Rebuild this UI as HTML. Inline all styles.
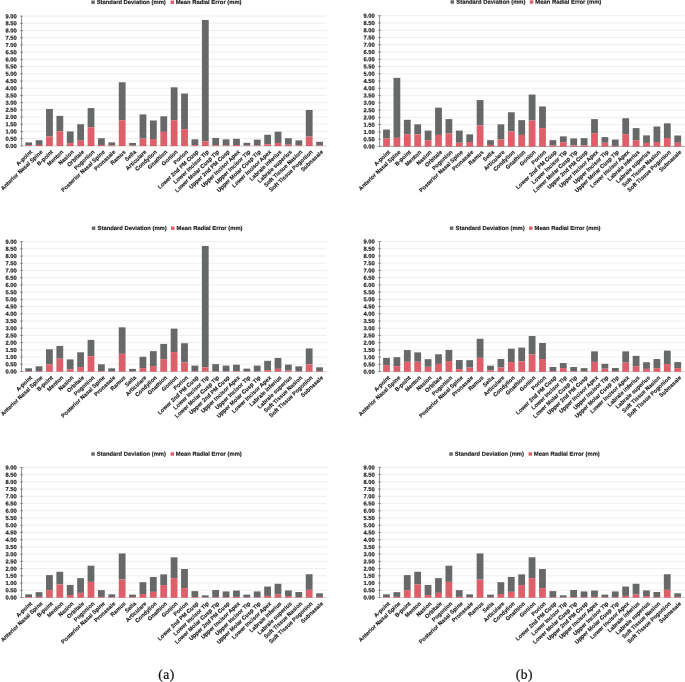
<!DOCTYPE html>
<html><head><meta charset="utf-8"><title>Landmark error charts</title>
<style>
html,body{margin:0;padding:0;background:#fff;}
body{width:685px;height:682px;overflow:hidden;font-family:"Liberation Sans",sans-serif;}
svg{display:block;will-change:transform;}
svg text{font-family:"Liberation Sans",sans-serif;font-weight:bold;font-size:5.85px;fill:#1a1a1a;stroke:#1a1a1a;stroke-width:0.16px;}
svg text.xl{font-size:5.62px;}
svg text.cap{stroke:#111;stroke-width:0.25px;font-family:"Liberation Serif",serif;font-weight:normal;font-size:13.5px;letter-spacing:0.55px;fill:#111;}
</style></head><body>
<svg width="685" height="682" viewBox="0 0 685 682">
<rect x="0" y="0" width="685" height="682" fill="#ffffff"/>
<g>
<line x1="21.60" y1="145.85" x2="326.90" y2="145.85" stroke="#e8e8e8" stroke-width="0.7"/>
<line x1="21.60" y1="138.64" x2="326.90" y2="138.64" stroke="#e8e8e8" stroke-width="0.7"/>
<line x1="21.60" y1="131.43" x2="326.90" y2="131.43" stroke="#e8e8e8" stroke-width="0.7"/>
<line x1="21.60" y1="124.22" x2="326.90" y2="124.22" stroke="#e8e8e8" stroke-width="0.7"/>
<line x1="21.60" y1="117.02" x2="326.90" y2="117.02" stroke="#e8e8e8" stroke-width="0.7"/>
<line x1="21.60" y1="109.81" x2="326.90" y2="109.81" stroke="#e8e8e8" stroke-width="0.7"/>
<line x1="21.60" y1="102.60" x2="326.90" y2="102.60" stroke="#e8e8e8" stroke-width="0.7"/>
<line x1="21.60" y1="95.39" x2="326.90" y2="95.39" stroke="#e8e8e8" stroke-width="0.7"/>
<line x1="21.60" y1="88.18" x2="326.90" y2="88.18" stroke="#e8e8e8" stroke-width="0.7"/>
<line x1="21.60" y1="80.97" x2="326.90" y2="80.97" stroke="#e8e8e8" stroke-width="0.7"/>
<line x1="21.60" y1="73.77" x2="326.90" y2="73.77" stroke="#e8e8e8" stroke-width="0.7"/>
<line x1="21.60" y1="66.56" x2="326.90" y2="66.56" stroke="#e8e8e8" stroke-width="0.7"/>
<line x1="21.60" y1="59.35" x2="326.90" y2="59.35" stroke="#e8e8e8" stroke-width="0.7"/>
<line x1="21.60" y1="52.14" x2="326.90" y2="52.14" stroke="#e8e8e8" stroke-width="0.7"/>
<line x1="21.60" y1="44.93" x2="326.90" y2="44.93" stroke="#e8e8e8" stroke-width="0.7"/>
<line x1="21.60" y1="37.72" x2="326.90" y2="37.72" stroke="#e8e8e8" stroke-width="0.7"/>
<line x1="21.60" y1="30.52" x2="326.90" y2="30.52" stroke="#e8e8e8" stroke-width="0.7"/>
<line x1="21.60" y1="23.31" x2="326.90" y2="23.31" stroke="#e8e8e8" stroke-width="0.7"/>
<line x1="21.60" y1="16.10" x2="326.90" y2="16.10" stroke="#e8e8e8" stroke-width="0.7"/>
<line x1="21.60" y1="145.85" x2="326.90" y2="145.85" stroke="#cfcfcf" stroke-width="0.75"/>
<rect x="25.28" y="142.39" width="6.8" height="2.88" fill="#676968"/>
<rect x="25.28" y="145.27" width="6.8" height="0.83" fill="#dc5f6a"/>
<rect x="35.67" y="140.23" width="6.8" height="4.76" fill="#676968"/>
<rect x="35.67" y="144.98" width="6.8" height="1.12" fill="#dc5f6a"/>
<rect x="46.06" y="108.94" width="6.8" height="27.54" fill="#676968"/>
<rect x="46.06" y="136.48" width="6.8" height="9.62" fill="#dc5f6a"/>
<rect x="56.45" y="115.86" width="6.8" height="15.43" fill="#676968"/>
<rect x="56.45" y="131.29" width="6.8" height="14.81" fill="#dc5f6a"/>
<rect x="66.84" y="131.43" width="6.8" height="11.68" fill="#676968"/>
<rect x="66.84" y="143.11" width="6.8" height="2.99" fill="#dc5f6a"/>
<rect x="77.23" y="124.22" width="6.8" height="16.44" fill="#676968"/>
<rect x="77.23" y="140.66" width="6.8" height="5.44" fill="#dc5f6a"/>
<rect x="87.62" y="108.08" width="6.8" height="19.17" fill="#676968"/>
<rect x="87.62" y="127.25" width="6.8" height="18.85" fill="#dc5f6a"/>
<rect x="98.01" y="138.21" width="6.8" height="6.78" fill="#676968"/>
<rect x="98.01" y="144.98" width="6.8" height="1.12" fill="#dc5f6a"/>
<rect x="108.40" y="142.39" width="6.8" height="3.03" fill="#676968"/>
<rect x="108.40" y="145.42" width="6.8" height="0.68" fill="#dc5f6a"/>
<rect x="118.79" y="82.27" width="6.8" height="37.92" fill="#676968"/>
<rect x="118.79" y="120.19" width="6.8" height="25.91" fill="#dc5f6a"/>
<rect x="129.18" y="142.97" width="6.8" height="2.59" fill="#676968"/>
<rect x="129.18" y="145.56" width="6.8" height="0.54" fill="#dc5f6a"/>
<rect x="139.57" y="114.42" width="6.8" height="24.08" fill="#676968"/>
<rect x="139.57" y="138.50" width="6.8" height="7.60" fill="#dc5f6a"/>
<rect x="149.96" y="120.48" width="6.8" height="18.60" fill="#676968"/>
<rect x="149.96" y="139.07" width="6.8" height="7.03" fill="#dc5f6a"/>
<rect x="160.35" y="116.30" width="6.8" height="15.57" fill="#676968"/>
<rect x="160.35" y="131.87" width="6.8" height="14.23" fill="#dc5f6a"/>
<rect x="170.74" y="87.32" width="6.8" height="32.87" fill="#676968"/>
<rect x="170.74" y="120.19" width="6.8" height="25.91" fill="#dc5f6a"/>
<rect x="181.13" y="93.52" width="6.8" height="35.61" fill="#676968"/>
<rect x="181.13" y="129.13" width="6.8" height="16.97" fill="#dc5f6a"/>
<rect x="191.52" y="139.36" width="6.8" height="5.91" fill="#676968"/>
<rect x="191.52" y="145.27" width="6.8" height="0.83" fill="#dc5f6a"/>
<rect x="201.91" y="19.99" width="6.8" height="121.24" fill="#676968"/>
<rect x="201.91" y="141.24" width="6.8" height="4.86" fill="#dc5f6a"/>
<rect x="212.30" y="137.92" width="6.8" height="7.35" fill="#676968"/>
<rect x="212.30" y="145.27" width="6.8" height="0.83" fill="#dc5f6a"/>
<rect x="222.69" y="139.36" width="6.8" height="6.06" fill="#676968"/>
<rect x="222.69" y="145.42" width="6.8" height="0.68" fill="#dc5f6a"/>
<rect x="233.08" y="138.79" width="6.8" height="6.20" fill="#676968"/>
<rect x="233.08" y="144.98" width="6.8" height="1.12" fill="#dc5f6a"/>
<rect x="243.47" y="142.82" width="6.8" height="2.74" fill="#676968"/>
<rect x="243.47" y="145.56" width="6.8" height="0.54" fill="#dc5f6a"/>
<rect x="253.86" y="139.65" width="6.8" height="5.77" fill="#676968"/>
<rect x="253.86" y="145.42" width="6.8" height="0.68" fill="#dc5f6a"/>
<rect x="264.25" y="134.75" width="6.8" height="9.51" fill="#676968"/>
<rect x="264.25" y="144.26" width="6.8" height="1.84" fill="#dc5f6a"/>
<rect x="274.64" y="131.72" width="6.8" height="11.25" fill="#676968"/>
<rect x="274.64" y="142.97" width="6.8" height="3.13" fill="#dc5f6a"/>
<rect x="285.03" y="138.21" width="6.8" height="6.49" fill="#676968"/>
<rect x="285.03" y="144.70" width="6.8" height="1.40" fill="#dc5f6a"/>
<rect x="295.42" y="140.37" width="6.8" height="5.05" fill="#676968"/>
<rect x="295.42" y="145.42" width="6.8" height="0.68" fill="#dc5f6a"/>
<rect x="305.81" y="109.95" width="6.8" height="26.67" fill="#676968"/>
<rect x="305.81" y="136.62" width="6.8" height="9.48" fill="#dc5f6a"/>
<rect x="316.20" y="141.81" width="6.8" height="3.60" fill="#676968"/>
<rect x="316.20" y="145.42" width="6.8" height="0.68" fill="#dc5f6a"/>
<line x1="21.60" y1="15.80" x2="21.60" y2="146.15" stroke="#5e5e5e" stroke-width="0.7"/>
<line x1="19.80" y1="145.85" x2="23.00" y2="145.85" stroke="#5e5e5e" stroke-width="0.55"/>
<text transform="translate(16.85,147.90) rotate(0.05)" text-anchor="end">0.00</text>
<line x1="19.80" y1="138.64" x2="23.00" y2="138.64" stroke="#5e5e5e" stroke-width="0.55"/>
<text transform="translate(16.85,140.69) rotate(0.05)" text-anchor="end">0.50</text>
<line x1="19.80" y1="131.43" x2="23.00" y2="131.43" stroke="#5e5e5e" stroke-width="0.55"/>
<text transform="translate(16.85,133.48) rotate(0.05)" text-anchor="end">1.00</text>
<line x1="19.80" y1="124.22" x2="23.00" y2="124.22" stroke="#5e5e5e" stroke-width="0.55"/>
<text transform="translate(16.85,126.27) rotate(0.05)" text-anchor="end">1.50</text>
<line x1="19.80" y1="117.02" x2="23.00" y2="117.02" stroke="#5e5e5e" stroke-width="0.55"/>
<text transform="translate(16.85,119.07) rotate(0.05)" text-anchor="end">2.00</text>
<line x1="19.80" y1="109.81" x2="23.00" y2="109.81" stroke="#5e5e5e" stroke-width="0.55"/>
<text transform="translate(16.85,111.86) rotate(0.05)" text-anchor="end">2.50</text>
<line x1="19.80" y1="102.60" x2="23.00" y2="102.60" stroke="#5e5e5e" stroke-width="0.55"/>
<text transform="translate(16.85,104.65) rotate(0.05)" text-anchor="end">3.00</text>
<line x1="19.80" y1="95.39" x2="23.00" y2="95.39" stroke="#5e5e5e" stroke-width="0.55"/>
<text transform="translate(16.85,97.44) rotate(0.05)" text-anchor="end">3.50</text>
<line x1="19.80" y1="88.18" x2="23.00" y2="88.18" stroke="#5e5e5e" stroke-width="0.55"/>
<text transform="translate(16.85,90.23) rotate(0.05)" text-anchor="end">4.00</text>
<line x1="19.80" y1="80.97" x2="23.00" y2="80.97" stroke="#5e5e5e" stroke-width="0.55"/>
<text transform="translate(16.85,83.02) rotate(0.05)" text-anchor="end">4.50</text>
<line x1="19.80" y1="73.77" x2="23.00" y2="73.77" stroke="#5e5e5e" stroke-width="0.55"/>
<text transform="translate(16.85,75.82) rotate(0.05)" text-anchor="end">5.00</text>
<line x1="19.80" y1="66.56" x2="23.00" y2="66.56" stroke="#5e5e5e" stroke-width="0.55"/>
<text transform="translate(16.85,68.61) rotate(0.05)" text-anchor="end">5.50</text>
<line x1="19.80" y1="59.35" x2="23.00" y2="59.35" stroke="#5e5e5e" stroke-width="0.55"/>
<text transform="translate(16.85,61.40) rotate(0.05)" text-anchor="end">6.00</text>
<line x1="19.80" y1="52.14" x2="23.00" y2="52.14" stroke="#5e5e5e" stroke-width="0.55"/>
<text transform="translate(16.85,54.19) rotate(0.05)" text-anchor="end">6.50</text>
<line x1="19.80" y1="44.93" x2="23.00" y2="44.93" stroke="#5e5e5e" stroke-width="0.55"/>
<text transform="translate(16.85,46.98) rotate(0.05)" text-anchor="end">7.00</text>
<line x1="19.80" y1="37.72" x2="23.00" y2="37.72" stroke="#5e5e5e" stroke-width="0.55"/>
<text transform="translate(16.85,39.77) rotate(0.05)" text-anchor="end">7.50</text>
<line x1="19.80" y1="30.52" x2="23.00" y2="30.52" stroke="#5e5e5e" stroke-width="0.55"/>
<text transform="translate(16.85,32.57) rotate(0.05)" text-anchor="end">8.00</text>
<line x1="19.80" y1="23.31" x2="23.00" y2="23.31" stroke="#5e5e5e" stroke-width="0.55"/>
<text transform="translate(16.85,25.36) rotate(0.05)" text-anchor="end">8.50</text>
<line x1="19.80" y1="16.10" x2="23.00" y2="16.10" stroke="#5e5e5e" stroke-width="0.55"/>
<text transform="translate(16.85,18.15) rotate(0.05)" text-anchor="end">9.00</text>
<text class="xl" transform="translate(32.58,152.45) rotate(-43.5)" text-anchor="end">A-point</text>
<text class="xl" transform="translate(42.97,152.45) rotate(-43.5)" text-anchor="end">Anterior Nasal Spine</text>
<text class="xl" transform="translate(53.36,152.45) rotate(-43.5)" text-anchor="end">B-point</text>
<text class="xl" transform="translate(63.75,152.45) rotate(-43.5)" text-anchor="end">Menton</text>
<text class="xl" transform="translate(74.14,152.45) rotate(-43.5)" text-anchor="end">Nasion</text>
<text class="xl" transform="translate(84.53,152.45) rotate(-43.5)" text-anchor="end">Orbitale</text>
<text class="xl" transform="translate(94.92,152.45) rotate(-43.5)" text-anchor="end">Pogonion</text>
<text class="xl" transform="translate(105.31,152.45) rotate(-43.5)" text-anchor="end">Posterior Nasal Spine</text>
<text class="xl" transform="translate(115.70,152.45) rotate(-43.5)" text-anchor="end">Pronasale</text>
<text class="xl" transform="translate(126.09,152.45) rotate(-43.5)" text-anchor="end">Ramus</text>
<text class="xl" transform="translate(136.48,152.45) rotate(-43.5)" text-anchor="end">Sella</text>
<text class="xl" transform="translate(146.87,152.45) rotate(-43.5)" text-anchor="end">Articulare</text>
<text class="xl" transform="translate(157.26,152.45) rotate(-43.5)" text-anchor="end">Condylion</text>
<text class="xl" transform="translate(167.65,152.45) rotate(-43.5)" text-anchor="end">Gnathion</text>
<text class="xl" transform="translate(178.04,152.45) rotate(-43.5)" text-anchor="end">Gonion</text>
<text class="xl" transform="translate(188.43,152.45) rotate(-43.5)" text-anchor="end">Porion</text>
<text class="xl" transform="translate(198.82,152.45) rotate(-43.5)" text-anchor="end">Lower 2nd PM Cusp</text>
<text class="xl" transform="translate(209.21,152.45) rotate(-43.5)" text-anchor="end">Lower Incisor Tip</text>
<text class="xl" transform="translate(219.60,152.45) rotate(-43.5)" text-anchor="end">Lower Molar Cusp Tip</text>
<text class="xl" transform="translate(229.99,152.45) rotate(-43.5)" text-anchor="end">Upper 2nd PM Cusp</text>
<text class="xl" transform="translate(240.38,152.45) rotate(-43.5)" text-anchor="end">Upper Incisor Apex</text>
<text class="xl" transform="translate(250.77,152.45) rotate(-43.5)" text-anchor="end">Upper Incisor Tip</text>
<text class="xl" transform="translate(261.16,152.45) rotate(-43.5)" text-anchor="end">Upper Molar Cusp Tip</text>
<text class="xl" transform="translate(271.55,152.45) rotate(-43.5)" text-anchor="end">Lower Incisor Apex</text>
<text class="xl" transform="translate(281.94,152.45) rotate(-43.5)" text-anchor="end">Labrale inferius</text>
<text class="xl" transform="translate(292.33,152.45) rotate(-43.5)" text-anchor="end">Labrale superius</text>
<text class="xl" transform="translate(302.72,152.45) rotate(-43.5)" text-anchor="end">Soft Tissue Nasion</text>
<text class="xl" transform="translate(313.11,152.45) rotate(-43.5)" text-anchor="end">Soft Tissue Pogonion</text>
<text class="xl" transform="translate(323.50,152.45) rotate(-43.5)" text-anchor="end">Subnasale</text>
<rect x="91.30" y="0.55" width="3.5" height="3.4" fill="#676968"/>
<text transform="translate(96.65,3.95) rotate(0.05)">Standard Deviation (mm)</text>
<rect x="170.55" y="0.55" width="3.5" height="3.4" fill="#dc5f6a"/>
<text transform="translate(175.65,3.95) rotate(0.05)">Mean Radial Error (mm)</text>
</g>
<g>
<line x1="379.60" y1="146.40" x2="684.90" y2="146.40" stroke="#e8e8e8" stroke-width="0.7"/>
<line x1="379.60" y1="139.14" x2="684.90" y2="139.14" stroke="#e8e8e8" stroke-width="0.7"/>
<line x1="379.60" y1="131.88" x2="684.90" y2="131.88" stroke="#e8e8e8" stroke-width="0.7"/>
<line x1="379.60" y1="124.62" x2="684.90" y2="124.62" stroke="#e8e8e8" stroke-width="0.7"/>
<line x1="379.60" y1="117.36" x2="684.90" y2="117.36" stroke="#e8e8e8" stroke-width="0.7"/>
<line x1="379.60" y1="110.09" x2="684.90" y2="110.09" stroke="#e8e8e8" stroke-width="0.7"/>
<line x1="379.60" y1="102.83" x2="684.90" y2="102.83" stroke="#e8e8e8" stroke-width="0.7"/>
<line x1="379.60" y1="95.57" x2="684.90" y2="95.57" stroke="#e8e8e8" stroke-width="0.7"/>
<line x1="379.60" y1="88.31" x2="684.90" y2="88.31" stroke="#e8e8e8" stroke-width="0.7"/>
<line x1="379.60" y1="81.05" x2="684.90" y2="81.05" stroke="#e8e8e8" stroke-width="0.7"/>
<line x1="379.60" y1="73.79" x2="684.90" y2="73.79" stroke="#e8e8e8" stroke-width="0.7"/>
<line x1="379.60" y1="66.53" x2="684.90" y2="66.53" stroke="#e8e8e8" stroke-width="0.7"/>
<line x1="379.60" y1="59.27" x2="684.90" y2="59.27" stroke="#e8e8e8" stroke-width="0.7"/>
<line x1="379.60" y1="52.01" x2="684.90" y2="52.01" stroke="#e8e8e8" stroke-width="0.7"/>
<line x1="379.60" y1="44.74" x2="684.90" y2="44.74" stroke="#e8e8e8" stroke-width="0.7"/>
<line x1="379.60" y1="37.48" x2="684.90" y2="37.48" stroke="#e8e8e8" stroke-width="0.7"/>
<line x1="379.60" y1="30.22" x2="684.90" y2="30.22" stroke="#e8e8e8" stroke-width="0.7"/>
<line x1="379.60" y1="22.96" x2="684.90" y2="22.96" stroke="#e8e8e8" stroke-width="0.7"/>
<line x1="379.60" y1="15.70" x2="684.90" y2="15.70" stroke="#e8e8e8" stroke-width="0.7"/>
<line x1="379.60" y1="146.40" x2="684.90" y2="146.40" stroke="#868686" stroke-width="0.75"/>
<rect x="383.10" y="129.55" width="6.8" height="8.86" fill="#676968"/>
<rect x="383.10" y="138.41" width="6.8" height="8.24" fill="#dc5f6a"/>
<rect x="393.50" y="77.86" width="6.8" height="59.98" fill="#676968"/>
<rect x="393.50" y="137.83" width="6.8" height="8.82" fill="#dc5f6a"/>
<rect x="403.90" y="119.82" width="6.8" height="14.38" fill="#676968"/>
<rect x="403.90" y="134.20" width="6.8" height="12.45" fill="#dc5f6a"/>
<rect x="414.30" y="124.33" width="6.8" height="10.02" fill="#676968"/>
<rect x="414.30" y="134.35" width="6.8" height="12.30" fill="#dc5f6a"/>
<rect x="424.70" y="130.57" width="6.8" height="9.58" fill="#676968"/>
<rect x="424.70" y="140.16" width="6.8" height="6.49" fill="#dc5f6a"/>
<rect x="435.10" y="107.63" width="6.8" height="27.30" fill="#676968"/>
<rect x="435.10" y="134.93" width="6.8" height="11.72" fill="#dc5f6a"/>
<rect x="445.50" y="119.10" width="6.8" height="14.23" fill="#676968"/>
<rect x="445.50" y="133.33" width="6.8" height="13.32" fill="#dc5f6a"/>
<rect x="455.90" y="130.57" width="6.8" height="12.20" fill="#676968"/>
<rect x="455.90" y="142.77" width="6.8" height="3.88" fill="#dc5f6a"/>
<rect x="466.30" y="134.35" width="6.8" height="7.70" fill="#676968"/>
<rect x="466.30" y="142.04" width="6.8" height="4.61" fill="#dc5f6a"/>
<rect x="476.70" y="100.07" width="6.8" height="25.41" fill="#676968"/>
<rect x="476.70" y="125.49" width="6.8" height="21.16" fill="#dc5f6a"/>
<rect x="487.10" y="140.16" width="6.8" height="4.79" fill="#676968"/>
<rect x="487.10" y="144.95" width="6.8" height="1.70" fill="#dc5f6a"/>
<rect x="497.50" y="124.33" width="6.8" height="15.10" fill="#676968"/>
<rect x="497.50" y="139.43" width="6.8" height="7.22" fill="#dc5f6a"/>
<rect x="507.90" y="112.27" width="6.8" height="19.02" fill="#676968"/>
<rect x="507.90" y="131.30" width="6.8" height="15.35" fill="#dc5f6a"/>
<rect x="518.30" y="120.11" width="6.8" height="14.81" fill="#676968"/>
<rect x="518.30" y="134.93" width="6.8" height="11.72" fill="#dc5f6a"/>
<rect x="528.70" y="94.56" width="6.8" height="25.99" fill="#676968"/>
<rect x="528.70" y="120.55" width="6.8" height="26.10" fill="#dc5f6a"/>
<rect x="539.10" y="106.46" width="6.8" height="21.64" fill="#676968"/>
<rect x="539.10" y="128.10" width="6.8" height="18.55" fill="#dc5f6a"/>
<rect x="549.50" y="140.16" width="6.8" height="5.23" fill="#676968"/>
<rect x="549.50" y="145.38" width="6.8" height="1.27" fill="#dc5f6a"/>
<rect x="559.90" y="136.38" width="6.8" height="5.81" fill="#676968"/>
<rect x="559.90" y="142.19" width="6.8" height="4.46" fill="#dc5f6a"/>
<rect x="570.30" y="138.41" width="6.8" height="6.97" fill="#676968"/>
<rect x="570.30" y="145.38" width="6.8" height="1.27" fill="#dc5f6a"/>
<rect x="580.70" y="138.12" width="6.8" height="7.26" fill="#676968"/>
<rect x="580.70" y="145.38" width="6.8" height="1.27" fill="#dc5f6a"/>
<rect x="591.10" y="119.10" width="6.8" height="14.09" fill="#676968"/>
<rect x="591.10" y="133.18" width="6.8" height="13.47" fill="#dc5f6a"/>
<rect x="601.50" y="137.11" width="6.8" height="5.66" fill="#676968"/>
<rect x="601.50" y="142.77" width="6.8" height="3.88" fill="#dc5f6a"/>
<rect x="611.90" y="139.57" width="6.8" height="6.39" fill="#676968"/>
<rect x="611.90" y="145.96" width="6.8" height="0.69" fill="#dc5f6a"/>
<rect x="622.30" y="118.23" width="6.8" height="15.97" fill="#676968"/>
<rect x="622.30" y="134.20" width="6.8" height="12.45" fill="#dc5f6a"/>
<rect x="632.70" y="128.10" width="6.8" height="12.05" fill="#676968"/>
<rect x="632.70" y="140.16" width="6.8" height="6.49" fill="#dc5f6a"/>
<rect x="643.10" y="135.36" width="6.8" height="7.55" fill="#676968"/>
<rect x="643.10" y="142.91" width="6.8" height="3.74" fill="#dc5f6a"/>
<rect x="653.50" y="126.50" width="6.8" height="15.54" fill="#676968"/>
<rect x="653.50" y="142.04" width="6.8" height="4.61" fill="#dc5f6a"/>
<rect x="663.90" y="123.31" width="6.8" height="14.67" fill="#676968"/>
<rect x="663.90" y="137.98" width="6.8" height="8.67" fill="#dc5f6a"/>
<rect x="674.30" y="135.51" width="6.8" height="7.26" fill="#676968"/>
<rect x="674.30" y="142.77" width="6.8" height="3.88" fill="#dc5f6a"/>
<line x1="379.60" y1="15.40" x2="379.60" y2="146.70" stroke="#5e5e5e" stroke-width="0.7"/>
<line x1="377.80" y1="146.40" x2="381.00" y2="146.40" stroke="#5e5e5e" stroke-width="0.55"/>
<text transform="translate(374.85,148.45) rotate(0.05)" text-anchor="end">0.00</text>
<line x1="377.80" y1="139.14" x2="381.00" y2="139.14" stroke="#5e5e5e" stroke-width="0.55"/>
<text transform="translate(374.85,141.19) rotate(0.05)" text-anchor="end">0.50</text>
<line x1="377.80" y1="131.88" x2="381.00" y2="131.88" stroke="#5e5e5e" stroke-width="0.55"/>
<text transform="translate(374.85,133.93) rotate(0.05)" text-anchor="end">1.00</text>
<line x1="377.80" y1="124.62" x2="381.00" y2="124.62" stroke="#5e5e5e" stroke-width="0.55"/>
<text transform="translate(374.85,126.67) rotate(0.05)" text-anchor="end">1.50</text>
<line x1="377.80" y1="117.36" x2="381.00" y2="117.36" stroke="#5e5e5e" stroke-width="0.55"/>
<text transform="translate(374.85,119.41) rotate(0.05)" text-anchor="end">2.00</text>
<line x1="377.80" y1="110.09" x2="381.00" y2="110.09" stroke="#5e5e5e" stroke-width="0.55"/>
<text transform="translate(374.85,112.14) rotate(0.05)" text-anchor="end">2.50</text>
<line x1="377.80" y1="102.83" x2="381.00" y2="102.83" stroke="#5e5e5e" stroke-width="0.55"/>
<text transform="translate(374.85,104.88) rotate(0.05)" text-anchor="end">3.00</text>
<line x1="377.80" y1="95.57" x2="381.00" y2="95.57" stroke="#5e5e5e" stroke-width="0.55"/>
<text transform="translate(374.85,97.62) rotate(0.05)" text-anchor="end">3.50</text>
<line x1="377.80" y1="88.31" x2="381.00" y2="88.31" stroke="#5e5e5e" stroke-width="0.55"/>
<text transform="translate(374.85,90.36) rotate(0.05)" text-anchor="end">4.00</text>
<line x1="377.80" y1="81.05" x2="381.00" y2="81.05" stroke="#5e5e5e" stroke-width="0.55"/>
<text transform="translate(374.85,83.10) rotate(0.05)" text-anchor="end">4.50</text>
<line x1="377.80" y1="73.79" x2="381.00" y2="73.79" stroke="#5e5e5e" stroke-width="0.55"/>
<text transform="translate(374.85,75.84) rotate(0.05)" text-anchor="end">5.00</text>
<line x1="377.80" y1="66.53" x2="381.00" y2="66.53" stroke="#5e5e5e" stroke-width="0.55"/>
<text transform="translate(374.85,68.58) rotate(0.05)" text-anchor="end">5.50</text>
<line x1="377.80" y1="59.27" x2="381.00" y2="59.27" stroke="#5e5e5e" stroke-width="0.55"/>
<text transform="translate(374.85,61.32) rotate(0.05)" text-anchor="end">6.00</text>
<line x1="377.80" y1="52.01" x2="381.00" y2="52.01" stroke="#5e5e5e" stroke-width="0.55"/>
<text transform="translate(374.85,54.06) rotate(0.05)" text-anchor="end">6.50</text>
<line x1="377.80" y1="44.74" x2="381.00" y2="44.74" stroke="#5e5e5e" stroke-width="0.55"/>
<text transform="translate(374.85,46.79) rotate(0.05)" text-anchor="end">7.00</text>
<line x1="377.80" y1="37.48" x2="381.00" y2="37.48" stroke="#5e5e5e" stroke-width="0.55"/>
<text transform="translate(374.85,39.53) rotate(0.05)" text-anchor="end">7.50</text>
<line x1="377.80" y1="30.22" x2="381.00" y2="30.22" stroke="#5e5e5e" stroke-width="0.55"/>
<text transform="translate(374.85,32.27) rotate(0.05)" text-anchor="end">8.00</text>
<line x1="377.80" y1="22.96" x2="381.00" y2="22.96" stroke="#5e5e5e" stroke-width="0.55"/>
<text transform="translate(374.85,25.01) rotate(0.05)" text-anchor="end">8.50</text>
<line x1="377.80" y1="15.70" x2="381.00" y2="15.70" stroke="#5e5e5e" stroke-width="0.55"/>
<text transform="translate(374.85,17.75) rotate(0.05)" text-anchor="end">9.00</text>
<text class="xl" transform="translate(390.50,152.65) rotate(-43.5)" text-anchor="end">A-point</text>
<text class="xl" transform="translate(400.90,152.65) rotate(-43.5)" text-anchor="end">Anterior Nasal Spine</text>
<text class="xl" transform="translate(411.30,152.65) rotate(-43.5)" text-anchor="end">B-point</text>
<text class="xl" transform="translate(421.70,152.65) rotate(-43.5)" text-anchor="end">Menton</text>
<text class="xl" transform="translate(432.10,152.65) rotate(-43.5)" text-anchor="end">Nasion</text>
<text class="xl" transform="translate(442.50,152.65) rotate(-43.5)" text-anchor="end">Orbitale</text>
<text class="xl" transform="translate(452.90,152.65) rotate(-43.5)" text-anchor="end">Pogonion</text>
<text class="xl" transform="translate(463.30,152.65) rotate(-43.5)" text-anchor="end">Posterior Nasal Spine</text>
<text class="xl" transform="translate(473.70,152.65) rotate(-43.5)" text-anchor="end">Pronasale</text>
<text class="xl" transform="translate(484.10,152.65) rotate(-43.5)" text-anchor="end">Ramus</text>
<text class="xl" transform="translate(494.50,152.65) rotate(-43.5)" text-anchor="end">Sella</text>
<text class="xl" transform="translate(504.90,152.65) rotate(-43.5)" text-anchor="end">Articulare</text>
<text class="xl" transform="translate(515.30,152.65) rotate(-43.5)" text-anchor="end">Condylion</text>
<text class="xl" transform="translate(525.70,152.65) rotate(-43.5)" text-anchor="end">Gnathion</text>
<text class="xl" transform="translate(536.10,152.65) rotate(-43.5)" text-anchor="end">Gonion</text>
<text class="xl" transform="translate(546.50,152.65) rotate(-43.5)" text-anchor="end">Porion</text>
<text class="xl" transform="translate(556.90,152.65) rotate(-43.5)" text-anchor="end">Lower 2nd PM Cusp</text>
<text class="xl" transform="translate(567.30,152.65) rotate(-43.5)" text-anchor="end">Lower Incisor Tip</text>
<text class="xl" transform="translate(577.70,152.65) rotate(-43.5)" text-anchor="end">Lower Molar Cusp Tip</text>
<text class="xl" transform="translate(588.10,152.65) rotate(-43.5)" text-anchor="end">Upper 2nd PM Cusp</text>
<text class="xl" transform="translate(598.50,152.65) rotate(-43.5)" text-anchor="end">Upper Incisor Apex</text>
<text class="xl" transform="translate(608.90,152.65) rotate(-43.5)" text-anchor="end">Upper Incisor Tip</text>
<text class="xl" transform="translate(619.30,152.65) rotate(-43.5)" text-anchor="end">Upper Molar Cusp Tip</text>
<text class="xl" transform="translate(629.70,152.65) rotate(-43.5)" text-anchor="end">Lower Incisor Apex</text>
<text class="xl" transform="translate(640.10,152.65) rotate(-43.5)" text-anchor="end">Labrale inferius</text>
<text class="xl" transform="translate(650.50,152.65) rotate(-43.5)" text-anchor="end">Labrale superius</text>
<text class="xl" transform="translate(660.90,152.65) rotate(-43.5)" text-anchor="end">Soft Tissue Nasion</text>
<text class="xl" transform="translate(671.30,152.65) rotate(-43.5)" text-anchor="end">Soft Tissue Pogonion</text>
<text class="xl" transform="translate(681.70,152.65) rotate(-43.5)" text-anchor="end">Subnasale</text>
<rect x="450.50" y="0.30" width="3.5" height="3.4" fill="#676968"/>
<text transform="translate(456.35,3.70) rotate(0.05)">Standard Deviation (mm)</text>
<rect x="529.75" y="0.30" width="3.5" height="3.4" fill="#dc5f6a"/>
<text transform="translate(535.35,3.70) rotate(0.05)">Mean Radial Error (mm)</text>
</g>
<g>
<line x1="21.55" y1="371.50" x2="326.85" y2="371.50" stroke="#e8e8e8" stroke-width="0.7"/>
<line x1="21.55" y1="364.28" x2="326.85" y2="364.28" stroke="#e8e8e8" stroke-width="0.7"/>
<line x1="21.55" y1="357.07" x2="326.85" y2="357.07" stroke="#e8e8e8" stroke-width="0.7"/>
<line x1="21.55" y1="349.85" x2="326.85" y2="349.85" stroke="#e8e8e8" stroke-width="0.7"/>
<line x1="21.55" y1="342.63" x2="326.85" y2="342.63" stroke="#e8e8e8" stroke-width="0.7"/>
<line x1="21.55" y1="335.42" x2="326.85" y2="335.42" stroke="#e8e8e8" stroke-width="0.7"/>
<line x1="21.55" y1="328.20" x2="326.85" y2="328.20" stroke="#e8e8e8" stroke-width="0.7"/>
<line x1="21.55" y1="320.98" x2="326.85" y2="320.98" stroke="#e8e8e8" stroke-width="0.7"/>
<line x1="21.55" y1="313.77" x2="326.85" y2="313.77" stroke="#e8e8e8" stroke-width="0.7"/>
<line x1="21.55" y1="306.55" x2="326.85" y2="306.55" stroke="#e8e8e8" stroke-width="0.7"/>
<line x1="21.55" y1="299.33" x2="326.85" y2="299.33" stroke="#e8e8e8" stroke-width="0.7"/>
<line x1="21.55" y1="292.12" x2="326.85" y2="292.12" stroke="#e8e8e8" stroke-width="0.7"/>
<line x1="21.55" y1="284.90" x2="326.85" y2="284.90" stroke="#e8e8e8" stroke-width="0.7"/>
<line x1="21.55" y1="277.68" x2="326.85" y2="277.68" stroke="#e8e8e8" stroke-width="0.7"/>
<line x1="21.55" y1="270.47" x2="326.85" y2="270.47" stroke="#e8e8e8" stroke-width="0.7"/>
<line x1="21.55" y1="263.25" x2="326.85" y2="263.25" stroke="#e8e8e8" stroke-width="0.7"/>
<line x1="21.55" y1="256.03" x2="326.85" y2="256.03" stroke="#e8e8e8" stroke-width="0.7"/>
<line x1="21.55" y1="248.82" x2="326.85" y2="248.82" stroke="#e8e8e8" stroke-width="0.7"/>
<line x1="21.55" y1="241.60" x2="326.85" y2="241.60" stroke="#e8e8e8" stroke-width="0.7"/>
<line x1="21.55" y1="371.50" x2="326.85" y2="371.50" stroke="#cfcfcf" stroke-width="0.75"/>
<rect x="25.23" y="368.32" width="6.8" height="2.96" fill="#676968"/>
<rect x="25.23" y="371.28" width="6.8" height="0.47" fill="#dc5f6a"/>
<rect x="35.62" y="366.30" width="6.8" height="4.84" fill="#676968"/>
<rect x="35.62" y="371.14" width="6.8" height="0.61" fill="#dc5f6a"/>
<rect x="46.01" y="349.27" width="6.8" height="15.08" fill="#676968"/>
<rect x="46.01" y="364.36" width="6.8" height="7.39" fill="#dc5f6a"/>
<rect x="56.40" y="345.95" width="6.8" height="12.77" fill="#676968"/>
<rect x="56.40" y="358.73" width="6.8" height="13.02" fill="#dc5f6a"/>
<rect x="66.79" y="359.38" width="6.8" height="9.89" fill="#676968"/>
<rect x="66.79" y="369.26" width="6.8" height="2.49" fill="#dc5f6a"/>
<rect x="77.18" y="352.30" width="6.8" height="14.79" fill="#676968"/>
<rect x="77.18" y="367.10" width="6.8" height="4.65" fill="#dc5f6a"/>
<rect x="87.57" y="339.89" width="6.8" height="16.24" fill="#676968"/>
<rect x="87.57" y="356.13" width="6.8" height="15.62" fill="#dc5f6a"/>
<rect x="97.96" y="364.28" width="6.8" height="6.86" fill="#676968"/>
<rect x="97.96" y="371.14" width="6.8" height="0.61" fill="#dc5f6a"/>
<rect x="108.35" y="368.32" width="6.8" height="3.03" fill="#676968"/>
<rect x="108.35" y="371.36" width="6.8" height="0.39" fill="#dc5f6a"/>
<rect x="118.74" y="327.33" width="6.8" height="26.49" fill="#676968"/>
<rect x="118.74" y="353.82" width="6.8" height="17.93" fill="#dc5f6a"/>
<rect x="129.13" y="368.90" width="6.8" height="2.45" fill="#676968"/>
<rect x="129.13" y="371.36" width="6.8" height="0.39" fill="#dc5f6a"/>
<rect x="139.52" y="356.78" width="6.8" height="11.33" fill="#676968"/>
<rect x="139.52" y="368.11" width="6.8" height="3.64" fill="#dc5f6a"/>
<rect x="149.91" y="351.15" width="6.8" height="14.94" fill="#676968"/>
<rect x="149.91" y="366.09" width="6.8" height="5.66" fill="#dc5f6a"/>
<rect x="160.30" y="343.93" width="6.8" height="15.23" fill="#676968"/>
<rect x="160.30" y="359.16" width="6.8" height="12.59" fill="#dc5f6a"/>
<rect x="170.69" y="328.63" width="6.8" height="23.45" fill="#676968"/>
<rect x="170.69" y="352.09" width="6.8" height="19.66" fill="#dc5f6a"/>
<rect x="181.08" y="343.21" width="6.8" height="19.12" fill="#676968"/>
<rect x="181.08" y="362.33" width="6.8" height="9.42" fill="#dc5f6a"/>
<rect x="191.47" y="365.58" width="6.8" height="5.70" fill="#676968"/>
<rect x="191.47" y="371.28" width="6.8" height="0.47" fill="#dc5f6a"/>
<rect x="201.86" y="245.93" width="6.8" height="121.46" fill="#676968"/>
<rect x="201.86" y="367.39" width="6.8" height="4.36" fill="#dc5f6a"/>
<rect x="212.25" y="364.14" width="6.8" height="7.14" fill="#676968"/>
<rect x="212.25" y="371.28" width="6.8" height="0.47" fill="#dc5f6a"/>
<rect x="222.64" y="365.58" width="6.8" height="5.70" fill="#676968"/>
<rect x="222.64" y="371.28" width="6.8" height="0.47" fill="#dc5f6a"/>
<rect x="233.03" y="364.72" width="6.8" height="6.42" fill="#676968"/>
<rect x="233.03" y="371.14" width="6.8" height="0.61" fill="#dc5f6a"/>
<rect x="243.42" y="368.61" width="6.8" height="2.67" fill="#676968"/>
<rect x="243.42" y="371.28" width="6.8" height="0.47" fill="#dc5f6a"/>
<rect x="253.81" y="365.58" width="6.8" height="5.70" fill="#676968"/>
<rect x="253.81" y="371.28" width="6.8" height="0.47" fill="#dc5f6a"/>
<rect x="264.20" y="360.82" width="6.8" height="9.31" fill="#676968"/>
<rect x="264.20" y="370.13" width="6.8" height="1.62" fill="#dc5f6a"/>
<rect x="274.59" y="357.93" width="6.8" height="10.90" fill="#676968"/>
<rect x="274.59" y="368.83" width="6.8" height="2.92" fill="#dc5f6a"/>
<rect x="284.98" y="364.57" width="6.8" height="5.99" fill="#676968"/>
<rect x="284.98" y="370.56" width="6.8" height="1.19" fill="#dc5f6a"/>
<rect x="295.37" y="366.30" width="6.8" height="4.98" fill="#676968"/>
<rect x="295.37" y="371.28" width="6.8" height="0.47" fill="#dc5f6a"/>
<rect x="305.76" y="348.41" width="6.8" height="15.95" fill="#676968"/>
<rect x="305.76" y="364.36" width="6.8" height="7.39" fill="#dc5f6a"/>
<rect x="316.15" y="367.31" width="6.8" height="3.68" fill="#676968"/>
<rect x="316.15" y="370.99" width="6.8" height="0.76" fill="#dc5f6a"/>
<line x1="21.55" y1="241.30" x2="21.55" y2="371.80" stroke="#5e5e5e" stroke-width="0.7"/>
<line x1="19.75" y1="371.50" x2="22.95" y2="371.50" stroke="#5e5e5e" stroke-width="0.55"/>
<text transform="translate(16.80,373.55) rotate(0.05)" text-anchor="end">0.00</text>
<line x1="19.75" y1="364.28" x2="22.95" y2="364.28" stroke="#5e5e5e" stroke-width="0.55"/>
<text transform="translate(16.80,366.33) rotate(0.05)" text-anchor="end">0.50</text>
<line x1="19.75" y1="357.07" x2="22.95" y2="357.07" stroke="#5e5e5e" stroke-width="0.55"/>
<text transform="translate(16.80,359.12) rotate(0.05)" text-anchor="end">1.00</text>
<line x1="19.75" y1="349.85" x2="22.95" y2="349.85" stroke="#5e5e5e" stroke-width="0.55"/>
<text transform="translate(16.80,351.90) rotate(0.05)" text-anchor="end">1.50</text>
<line x1="19.75" y1="342.63" x2="22.95" y2="342.63" stroke="#5e5e5e" stroke-width="0.55"/>
<text transform="translate(16.80,344.68) rotate(0.05)" text-anchor="end">2.00</text>
<line x1="19.75" y1="335.42" x2="22.95" y2="335.42" stroke="#5e5e5e" stroke-width="0.55"/>
<text transform="translate(16.80,337.47) rotate(0.05)" text-anchor="end">2.50</text>
<line x1="19.75" y1="328.20" x2="22.95" y2="328.20" stroke="#5e5e5e" stroke-width="0.55"/>
<text transform="translate(16.80,330.25) rotate(0.05)" text-anchor="end">3.00</text>
<line x1="19.75" y1="320.98" x2="22.95" y2="320.98" stroke="#5e5e5e" stroke-width="0.55"/>
<text transform="translate(16.80,323.03) rotate(0.05)" text-anchor="end">3.50</text>
<line x1="19.75" y1="313.77" x2="22.95" y2="313.77" stroke="#5e5e5e" stroke-width="0.55"/>
<text transform="translate(16.80,315.82) rotate(0.05)" text-anchor="end">4.00</text>
<line x1="19.75" y1="306.55" x2="22.95" y2="306.55" stroke="#5e5e5e" stroke-width="0.55"/>
<text transform="translate(16.80,308.60) rotate(0.05)" text-anchor="end">4.50</text>
<line x1="19.75" y1="299.33" x2="22.95" y2="299.33" stroke="#5e5e5e" stroke-width="0.55"/>
<text transform="translate(16.80,301.38) rotate(0.05)" text-anchor="end">5.00</text>
<line x1="19.75" y1="292.12" x2="22.95" y2="292.12" stroke="#5e5e5e" stroke-width="0.55"/>
<text transform="translate(16.80,294.17) rotate(0.05)" text-anchor="end">5.50</text>
<line x1="19.75" y1="284.90" x2="22.95" y2="284.90" stroke="#5e5e5e" stroke-width="0.55"/>
<text transform="translate(16.80,286.95) rotate(0.05)" text-anchor="end">6.00</text>
<line x1="19.75" y1="277.68" x2="22.95" y2="277.68" stroke="#5e5e5e" stroke-width="0.55"/>
<text transform="translate(16.80,279.73) rotate(0.05)" text-anchor="end">6.50</text>
<line x1="19.75" y1="270.47" x2="22.95" y2="270.47" stroke="#5e5e5e" stroke-width="0.55"/>
<text transform="translate(16.80,272.52) rotate(0.05)" text-anchor="end">7.00</text>
<line x1="19.75" y1="263.25" x2="22.95" y2="263.25" stroke="#5e5e5e" stroke-width="0.55"/>
<text transform="translate(16.80,265.30) rotate(0.05)" text-anchor="end">7.50</text>
<line x1="19.75" y1="256.03" x2="22.95" y2="256.03" stroke="#5e5e5e" stroke-width="0.55"/>
<text transform="translate(16.80,258.08) rotate(0.05)" text-anchor="end">8.00</text>
<line x1="19.75" y1="248.82" x2="22.95" y2="248.82" stroke="#5e5e5e" stroke-width="0.55"/>
<text transform="translate(16.80,250.87) rotate(0.05)" text-anchor="end">8.50</text>
<line x1="19.75" y1="241.60" x2="22.95" y2="241.60" stroke="#5e5e5e" stroke-width="0.55"/>
<text transform="translate(16.80,243.65) rotate(0.05)" text-anchor="end">9.00</text>
<text class="xl" transform="translate(32.53,378.10) rotate(-43.5)" text-anchor="end">A-point</text>
<text class="xl" transform="translate(42.92,378.10) rotate(-43.5)" text-anchor="end">Anterior Nasal Spine</text>
<text class="xl" transform="translate(53.31,378.10) rotate(-43.5)" text-anchor="end">B-point</text>
<text class="xl" transform="translate(63.70,378.10) rotate(-43.5)" text-anchor="end">Menton</text>
<text class="xl" transform="translate(74.09,378.10) rotate(-43.5)" text-anchor="end">Nasion</text>
<text class="xl" transform="translate(84.48,378.10) rotate(-43.5)" text-anchor="end">Orbitale</text>
<text class="xl" transform="translate(94.87,378.10) rotate(-43.5)" text-anchor="end">Pogonion</text>
<text class="xl" transform="translate(105.26,378.10) rotate(-43.5)" text-anchor="end">Posterior Nasal Spine</text>
<text class="xl" transform="translate(115.65,378.10) rotate(-43.5)" text-anchor="end">Pronasale</text>
<text class="xl" transform="translate(126.04,378.10) rotate(-43.5)" text-anchor="end">Ramus</text>
<text class="xl" transform="translate(136.43,378.10) rotate(-43.5)" text-anchor="end">Sella</text>
<text class="xl" transform="translate(146.82,378.10) rotate(-43.5)" text-anchor="end">Articulare</text>
<text class="xl" transform="translate(157.21,378.10) rotate(-43.5)" text-anchor="end">Condylion</text>
<text class="xl" transform="translate(167.60,378.10) rotate(-43.5)" text-anchor="end">Gnathion</text>
<text class="xl" transform="translate(177.99,378.10) rotate(-43.5)" text-anchor="end">Gonion</text>
<text class="xl" transform="translate(188.38,378.10) rotate(-43.5)" text-anchor="end">Porion</text>
<text class="xl" transform="translate(198.77,378.10) rotate(-43.5)" text-anchor="end">Lower 2nd PM Cusp</text>
<text class="xl" transform="translate(209.16,378.10) rotate(-43.5)" text-anchor="end">Lower Incisor Tip</text>
<text class="xl" transform="translate(219.55,378.10) rotate(-43.5)" text-anchor="end">Lower Molar Cusp Tip</text>
<text class="xl" transform="translate(229.94,378.10) rotate(-43.5)" text-anchor="end">Upper 2nd PM Cusp</text>
<text class="xl" transform="translate(240.33,378.10) rotate(-43.5)" text-anchor="end">Upper Incisor Apex</text>
<text class="xl" transform="translate(250.72,378.10) rotate(-43.5)" text-anchor="end">Upper Incisor Tip</text>
<text class="xl" transform="translate(261.11,378.10) rotate(-43.5)" text-anchor="end">Upper Molar Cusp Tip</text>
<text class="xl" transform="translate(271.50,378.10) rotate(-43.5)" text-anchor="end">Lower Incisor Apex</text>
<text class="xl" transform="translate(281.89,378.10) rotate(-43.5)" text-anchor="end">Labrale inferius</text>
<text class="xl" transform="translate(292.28,378.10) rotate(-43.5)" text-anchor="end">Labrale superius</text>
<text class="xl" transform="translate(302.67,378.10) rotate(-43.5)" text-anchor="end">Soft Tissue Nasion</text>
<text class="xl" transform="translate(313.06,378.10) rotate(-43.5)" text-anchor="end">Soft Tissue Pogonion</text>
<text class="xl" transform="translate(323.45,378.10) rotate(-43.5)" text-anchor="end">Subnasale</text>
<rect x="91.80" y="226.50" width="3.5" height="3.4" fill="#676968"/>
<text transform="translate(97.60,229.90) rotate(0.05)">Standard Deviation (mm)</text>
<rect x="171.05" y="226.50" width="3.5" height="3.4" fill="#dc5f6a"/>
<text transform="translate(176.60,229.90) rotate(0.05)">Mean Radial Error (mm)</text>
</g>
<g>
<line x1="379.60" y1="371.60" x2="684.90" y2="371.60" stroke="#e8e8e8" stroke-width="0.7"/>
<line x1="379.60" y1="364.37" x2="684.90" y2="364.37" stroke="#e8e8e8" stroke-width="0.7"/>
<line x1="379.60" y1="357.14" x2="684.90" y2="357.14" stroke="#e8e8e8" stroke-width="0.7"/>
<line x1="379.60" y1="349.92" x2="684.90" y2="349.92" stroke="#e8e8e8" stroke-width="0.7"/>
<line x1="379.60" y1="342.69" x2="684.90" y2="342.69" stroke="#e8e8e8" stroke-width="0.7"/>
<line x1="379.60" y1="335.46" x2="684.90" y2="335.46" stroke="#e8e8e8" stroke-width="0.7"/>
<line x1="379.60" y1="328.23" x2="684.90" y2="328.23" stroke="#e8e8e8" stroke-width="0.7"/>
<line x1="379.60" y1="321.01" x2="684.90" y2="321.01" stroke="#e8e8e8" stroke-width="0.7"/>
<line x1="379.60" y1="313.78" x2="684.90" y2="313.78" stroke="#e8e8e8" stroke-width="0.7"/>
<line x1="379.60" y1="306.55" x2="684.90" y2="306.55" stroke="#e8e8e8" stroke-width="0.7"/>
<line x1="379.60" y1="299.32" x2="684.90" y2="299.32" stroke="#e8e8e8" stroke-width="0.7"/>
<line x1="379.60" y1="292.09" x2="684.90" y2="292.09" stroke="#e8e8e8" stroke-width="0.7"/>
<line x1="379.60" y1="284.87" x2="684.90" y2="284.87" stroke="#e8e8e8" stroke-width="0.7"/>
<line x1="379.60" y1="277.64" x2="684.90" y2="277.64" stroke="#e8e8e8" stroke-width="0.7"/>
<line x1="379.60" y1="270.41" x2="684.90" y2="270.41" stroke="#e8e8e8" stroke-width="0.7"/>
<line x1="379.60" y1="263.18" x2="684.90" y2="263.18" stroke="#e8e8e8" stroke-width="0.7"/>
<line x1="379.60" y1="255.96" x2="684.90" y2="255.96" stroke="#e8e8e8" stroke-width="0.7"/>
<line x1="379.60" y1="248.73" x2="684.90" y2="248.73" stroke="#e8e8e8" stroke-width="0.7"/>
<line x1="379.60" y1="241.50" x2="684.90" y2="241.50" stroke="#e8e8e8" stroke-width="0.7"/>
<line x1="379.60" y1="371.60" x2="684.90" y2="371.60" stroke="#c4c4c4" stroke-width="0.75"/>
<rect x="383.10" y="357.87" width="6.8" height="7.23" fill="#676968"/>
<rect x="383.10" y="365.10" width="6.8" height="6.75" fill="#dc5f6a"/>
<rect x="393.50" y="357.14" width="6.8" height="8.96" fill="#676968"/>
<rect x="393.50" y="366.11" width="6.8" height="5.74" fill="#dc5f6a"/>
<rect x="403.90" y="350.06" width="6.8" height="11.71" fill="#676968"/>
<rect x="403.90" y="361.77" width="6.8" height="10.08" fill="#dc5f6a"/>
<rect x="414.30" y="352.37" width="6.8" height="9.40" fill="#676968"/>
<rect x="414.30" y="361.77" width="6.8" height="10.08" fill="#dc5f6a"/>
<rect x="424.70" y="359.17" width="6.8" height="7.66" fill="#676968"/>
<rect x="424.70" y="366.83" width="6.8" height="5.02" fill="#dc5f6a"/>
<rect x="435.10" y="354.25" width="6.8" height="9.69" fill="#676968"/>
<rect x="435.10" y="363.94" width="6.8" height="7.91" fill="#dc5f6a"/>
<rect x="445.50" y="349.92" width="6.8" height="11.13" fill="#676968"/>
<rect x="445.50" y="361.05" width="6.8" height="10.80" fill="#dc5f6a"/>
<rect x="455.90" y="360.04" width="6.8" height="9.11" fill="#676968"/>
<rect x="455.90" y="369.14" width="6.8" height="2.71" fill="#dc5f6a"/>
<rect x="466.30" y="360.18" width="6.8" height="7.37" fill="#676968"/>
<rect x="466.30" y="367.55" width="6.8" height="4.30" fill="#dc5f6a"/>
<rect x="476.70" y="338.79" width="6.8" height="19.08" fill="#676968"/>
<rect x="476.70" y="357.87" width="6.8" height="13.98" fill="#dc5f6a"/>
<rect x="487.10" y="365.67" width="6.8" height="4.77" fill="#676968"/>
<rect x="487.10" y="370.44" width="6.8" height="1.41" fill="#dc5f6a"/>
<rect x="497.50" y="359.02" width="6.8" height="8.53" fill="#676968"/>
<rect x="497.50" y="367.55" width="6.8" height="4.30" fill="#dc5f6a"/>
<rect x="507.90" y="348.62" width="6.8" height="13.44" fill="#676968"/>
<rect x="507.90" y="362.06" width="6.8" height="9.79" fill="#dc5f6a"/>
<rect x="518.30" y="347.60" width="6.8" height="13.88" fill="#676968"/>
<rect x="518.30" y="361.48" width="6.8" height="10.37" fill="#dc5f6a"/>
<rect x="528.70" y="336.04" width="6.8" height="18.50" fill="#676968"/>
<rect x="528.70" y="354.54" width="6.8" height="17.31" fill="#dc5f6a"/>
<rect x="539.10" y="342.98" width="6.8" height="16.05" fill="#676968"/>
<rect x="539.10" y="359.02" width="6.8" height="12.83" fill="#dc5f6a"/>
<rect x="549.50" y="366.97" width="6.8" height="4.19" fill="#676968"/>
<rect x="549.50" y="371.17" width="6.8" height="0.68" fill="#dc5f6a"/>
<rect x="559.90" y="363.07" width="6.8" height="5.06" fill="#676968"/>
<rect x="559.90" y="368.13" width="6.8" height="3.72" fill="#dc5f6a"/>
<rect x="570.30" y="366.97" width="6.8" height="4.19" fill="#676968"/>
<rect x="570.30" y="371.17" width="6.8" height="0.68" fill="#dc5f6a"/>
<rect x="580.70" y="368.13" width="6.8" height="3.18" fill="#676968"/>
<rect x="580.70" y="371.31" width="6.8" height="0.54" fill="#dc5f6a"/>
<rect x="591.10" y="351.36" width="6.8" height="10.55" fill="#676968"/>
<rect x="591.10" y="361.91" width="6.8" height="9.94" fill="#dc5f6a"/>
<rect x="601.50" y="363.79" width="6.8" height="4.91" fill="#676968"/>
<rect x="601.50" y="368.71" width="6.8" height="3.14" fill="#dc5f6a"/>
<rect x="611.90" y="367.99" width="6.8" height="3.32" fill="#676968"/>
<rect x="611.90" y="371.31" width="6.8" height="0.54" fill="#dc5f6a"/>
<rect x="622.30" y="351.36" width="6.8" height="11.28" fill="#676968"/>
<rect x="622.30" y="362.64" width="6.8" height="9.21" fill="#dc5f6a"/>
<rect x="632.70" y="355.84" width="6.8" height="10.26" fill="#676968"/>
<rect x="632.70" y="366.11" width="6.8" height="5.74" fill="#dc5f6a"/>
<rect x="643.10" y="362.20" width="6.8" height="6.65" fill="#676968"/>
<rect x="643.10" y="368.85" width="6.8" height="3.00" fill="#dc5f6a"/>
<rect x="653.50" y="359.02" width="6.8" height="9.11" fill="#676968"/>
<rect x="653.50" y="368.13" width="6.8" height="3.72" fill="#dc5f6a"/>
<rect x="663.90" y="350.64" width="6.8" height="13.44" fill="#676968"/>
<rect x="663.90" y="364.08" width="6.8" height="7.77" fill="#dc5f6a"/>
<rect x="674.30" y="362.06" width="6.8" height="6.07" fill="#676968"/>
<rect x="674.30" y="368.13" width="6.8" height="3.72" fill="#dc5f6a"/>
<line x1="379.60" y1="241.20" x2="379.60" y2="371.90" stroke="#5e5e5e" stroke-width="0.7"/>
<line x1="377.80" y1="371.60" x2="381.00" y2="371.60" stroke="#5e5e5e" stroke-width="0.55"/>
<text transform="translate(374.85,373.65) rotate(0.05)" text-anchor="end">0.00</text>
<line x1="377.80" y1="364.37" x2="381.00" y2="364.37" stroke="#5e5e5e" stroke-width="0.55"/>
<text transform="translate(374.85,366.42) rotate(0.05)" text-anchor="end">0.50</text>
<line x1="377.80" y1="357.14" x2="381.00" y2="357.14" stroke="#5e5e5e" stroke-width="0.55"/>
<text transform="translate(374.85,359.19) rotate(0.05)" text-anchor="end">1.00</text>
<line x1="377.80" y1="349.92" x2="381.00" y2="349.92" stroke="#5e5e5e" stroke-width="0.55"/>
<text transform="translate(374.85,351.97) rotate(0.05)" text-anchor="end">1.50</text>
<line x1="377.80" y1="342.69" x2="381.00" y2="342.69" stroke="#5e5e5e" stroke-width="0.55"/>
<text transform="translate(374.85,344.74) rotate(0.05)" text-anchor="end">2.00</text>
<line x1="377.80" y1="335.46" x2="381.00" y2="335.46" stroke="#5e5e5e" stroke-width="0.55"/>
<text transform="translate(374.85,337.51) rotate(0.05)" text-anchor="end">2.50</text>
<line x1="377.80" y1="328.23" x2="381.00" y2="328.23" stroke="#5e5e5e" stroke-width="0.55"/>
<text transform="translate(374.85,330.28) rotate(0.05)" text-anchor="end">3.00</text>
<line x1="377.80" y1="321.01" x2="381.00" y2="321.01" stroke="#5e5e5e" stroke-width="0.55"/>
<text transform="translate(374.85,323.06) rotate(0.05)" text-anchor="end">3.50</text>
<line x1="377.80" y1="313.78" x2="381.00" y2="313.78" stroke="#5e5e5e" stroke-width="0.55"/>
<text transform="translate(374.85,315.83) rotate(0.05)" text-anchor="end">4.00</text>
<line x1="377.80" y1="306.55" x2="381.00" y2="306.55" stroke="#5e5e5e" stroke-width="0.55"/>
<text transform="translate(374.85,308.60) rotate(0.05)" text-anchor="end">4.50</text>
<line x1="377.80" y1="299.32" x2="381.00" y2="299.32" stroke="#5e5e5e" stroke-width="0.55"/>
<text transform="translate(374.85,301.37) rotate(0.05)" text-anchor="end">5.00</text>
<line x1="377.80" y1="292.09" x2="381.00" y2="292.09" stroke="#5e5e5e" stroke-width="0.55"/>
<text transform="translate(374.85,294.14) rotate(0.05)" text-anchor="end">5.50</text>
<line x1="377.80" y1="284.87" x2="381.00" y2="284.87" stroke="#5e5e5e" stroke-width="0.55"/>
<text transform="translate(374.85,286.92) rotate(0.05)" text-anchor="end">6.00</text>
<line x1="377.80" y1="277.64" x2="381.00" y2="277.64" stroke="#5e5e5e" stroke-width="0.55"/>
<text transform="translate(374.85,279.69) rotate(0.05)" text-anchor="end">6.50</text>
<line x1="377.80" y1="270.41" x2="381.00" y2="270.41" stroke="#5e5e5e" stroke-width="0.55"/>
<text transform="translate(374.85,272.46) rotate(0.05)" text-anchor="end">7.00</text>
<line x1="377.80" y1="263.18" x2="381.00" y2="263.18" stroke="#5e5e5e" stroke-width="0.55"/>
<text transform="translate(374.85,265.23) rotate(0.05)" text-anchor="end">7.50</text>
<line x1="377.80" y1="255.96" x2="381.00" y2="255.96" stroke="#5e5e5e" stroke-width="0.55"/>
<text transform="translate(374.85,258.01) rotate(0.05)" text-anchor="end">8.00</text>
<line x1="377.80" y1="248.73" x2="381.00" y2="248.73" stroke="#5e5e5e" stroke-width="0.55"/>
<text transform="translate(374.85,250.78) rotate(0.05)" text-anchor="end">8.50</text>
<line x1="377.80" y1="241.50" x2="381.00" y2="241.50" stroke="#5e5e5e" stroke-width="0.55"/>
<text transform="translate(374.85,243.55) rotate(0.05)" text-anchor="end">9.00</text>
<text class="xl" transform="translate(390.40,378.20) rotate(-43.5)" text-anchor="end">A-point</text>
<text class="xl" transform="translate(400.80,378.20) rotate(-43.5)" text-anchor="end">Anterior Nasal Spine</text>
<text class="xl" transform="translate(411.20,378.20) rotate(-43.5)" text-anchor="end">B-point</text>
<text class="xl" transform="translate(421.60,378.20) rotate(-43.5)" text-anchor="end">Menton</text>
<text class="xl" transform="translate(432.00,378.20) rotate(-43.5)" text-anchor="end">Nasion</text>
<text class="xl" transform="translate(442.40,378.20) rotate(-43.5)" text-anchor="end">Orbitale</text>
<text class="xl" transform="translate(452.80,378.20) rotate(-43.5)" text-anchor="end">Pogonion</text>
<text class="xl" transform="translate(463.20,378.20) rotate(-43.5)" text-anchor="end">Posterior Nasal Spine</text>
<text class="xl" transform="translate(473.60,378.20) rotate(-43.5)" text-anchor="end">Pronasale</text>
<text class="xl" transform="translate(484.00,378.20) rotate(-43.5)" text-anchor="end">Ramus</text>
<text class="xl" transform="translate(494.40,378.20) rotate(-43.5)" text-anchor="end">Sella</text>
<text class="xl" transform="translate(504.80,378.20) rotate(-43.5)" text-anchor="end">Articulare</text>
<text class="xl" transform="translate(515.20,378.20) rotate(-43.5)" text-anchor="end">Condylion</text>
<text class="xl" transform="translate(525.60,378.20) rotate(-43.5)" text-anchor="end">Gnathion</text>
<text class="xl" transform="translate(536.00,378.20) rotate(-43.5)" text-anchor="end">Gonion</text>
<text class="xl" transform="translate(546.40,378.20) rotate(-43.5)" text-anchor="end">Porion</text>
<text class="xl" transform="translate(556.80,378.20) rotate(-43.5)" text-anchor="end">Lower 2nd PM Cusp</text>
<text class="xl" transform="translate(567.20,378.20) rotate(-43.5)" text-anchor="end">Lower Incisor Tip</text>
<text class="xl" transform="translate(577.60,378.20) rotate(-43.5)" text-anchor="end">Lower Molar Cusp Tip</text>
<text class="xl" transform="translate(588.00,378.20) rotate(-43.5)" text-anchor="end">Upper 2nd PM Cusp</text>
<text class="xl" transform="translate(598.40,378.20) rotate(-43.5)" text-anchor="end">Upper Incisor Apex</text>
<text class="xl" transform="translate(608.80,378.20) rotate(-43.5)" text-anchor="end">Upper Incisor Tip</text>
<text class="xl" transform="translate(619.20,378.20) rotate(-43.5)" text-anchor="end">Upper Molar Cusp Tip</text>
<text class="xl" transform="translate(629.60,378.20) rotate(-43.5)" text-anchor="end">Lower Incisor Apex</text>
<text class="xl" transform="translate(640.00,378.20) rotate(-43.5)" text-anchor="end">Labrale inferius</text>
<text class="xl" transform="translate(650.40,378.20) rotate(-43.5)" text-anchor="end">Labrale superius</text>
<text class="xl" transform="translate(660.80,378.20) rotate(-43.5)" text-anchor="end">Soft Tissue Nasion</text>
<text class="xl" transform="translate(671.20,378.20) rotate(-43.5)" text-anchor="end">Soft Tissue Pogonion</text>
<text class="xl" transform="translate(681.60,378.20) rotate(-43.5)" text-anchor="end">Subnasale</text>
<rect x="449.80" y="226.50" width="3.5" height="3.4" fill="#676968"/>
<text transform="translate(455.60,229.90) rotate(0.05)">Standard Deviation (mm)</text>
<rect x="529.05" y="226.50" width="3.5" height="3.4" fill="#dc5f6a"/>
<text transform="translate(534.60,229.90) rotate(0.05)">Mean Radial Error (mm)</text>
</g>
<g>
<line x1="21.55" y1="597.50" x2="326.85" y2="597.50" stroke="#e8e8e8" stroke-width="0.7"/>
<line x1="21.55" y1="590.27" x2="326.85" y2="590.27" stroke="#e8e8e8" stroke-width="0.7"/>
<line x1="21.55" y1="583.04" x2="326.85" y2="583.04" stroke="#e8e8e8" stroke-width="0.7"/>
<line x1="21.55" y1="575.82" x2="326.85" y2="575.82" stroke="#e8e8e8" stroke-width="0.7"/>
<line x1="21.55" y1="568.59" x2="326.85" y2="568.59" stroke="#e8e8e8" stroke-width="0.7"/>
<line x1="21.55" y1="561.36" x2="326.85" y2="561.36" stroke="#e8e8e8" stroke-width="0.7"/>
<line x1="21.55" y1="554.13" x2="326.85" y2="554.13" stroke="#e8e8e8" stroke-width="0.7"/>
<line x1="21.55" y1="546.91" x2="326.85" y2="546.91" stroke="#e8e8e8" stroke-width="0.7"/>
<line x1="21.55" y1="539.68" x2="326.85" y2="539.68" stroke="#e8e8e8" stroke-width="0.7"/>
<line x1="21.55" y1="532.45" x2="326.85" y2="532.45" stroke="#e8e8e8" stroke-width="0.7"/>
<line x1="21.55" y1="525.22" x2="326.85" y2="525.22" stroke="#e8e8e8" stroke-width="0.7"/>
<line x1="21.55" y1="517.99" x2="326.85" y2="517.99" stroke="#e8e8e8" stroke-width="0.7"/>
<line x1="21.55" y1="510.77" x2="326.85" y2="510.77" stroke="#e8e8e8" stroke-width="0.7"/>
<line x1="21.55" y1="503.54" x2="326.85" y2="503.54" stroke="#e8e8e8" stroke-width="0.7"/>
<line x1="21.55" y1="496.31" x2="326.85" y2="496.31" stroke="#e8e8e8" stroke-width="0.7"/>
<line x1="21.55" y1="489.08" x2="326.85" y2="489.08" stroke="#e8e8e8" stroke-width="0.7"/>
<line x1="21.55" y1="481.86" x2="326.85" y2="481.86" stroke="#e8e8e8" stroke-width="0.7"/>
<line x1="21.55" y1="474.63" x2="326.85" y2="474.63" stroke="#e8e8e8" stroke-width="0.7"/>
<line x1="21.55" y1="467.40" x2="326.85" y2="467.40" stroke="#e8e8e8" stroke-width="0.7"/>
<line x1="21.55" y1="597.50" x2="326.85" y2="597.50" stroke="#cfcfcf" stroke-width="0.75"/>
<rect x="25.23" y="594.32" width="6.8" height="2.75" fill="#676968"/>
<rect x="25.23" y="597.07" width="6.8" height="0.68" fill="#dc5f6a"/>
<rect x="35.62" y="592.15" width="6.8" height="4.77" fill="#676968"/>
<rect x="35.62" y="596.92" width="6.8" height="0.83" fill="#dc5f6a"/>
<rect x="46.01" y="575.09" width="6.8" height="15.03" fill="#676968"/>
<rect x="46.01" y="590.13" width="6.8" height="7.62" fill="#dc5f6a"/>
<rect x="56.40" y="571.77" width="6.8" height="12.72" fill="#676968"/>
<rect x="56.40" y="584.49" width="6.8" height="13.26" fill="#dc5f6a"/>
<rect x="66.79" y="584.92" width="6.8" height="10.12" fill="#676968"/>
<rect x="66.79" y="595.04" width="6.8" height="2.71" fill="#dc5f6a"/>
<rect x="77.18" y="578.13" width="6.8" height="14.74" fill="#676968"/>
<rect x="77.18" y="592.87" width="6.8" height="4.88" fill="#dc5f6a"/>
<rect x="87.57" y="565.70" width="6.8" height="16.19" fill="#676968"/>
<rect x="87.57" y="581.89" width="6.8" height="15.86" fill="#dc5f6a"/>
<rect x="97.96" y="590.13" width="6.8" height="6.79" fill="#676968"/>
<rect x="97.96" y="596.92" width="6.8" height="0.83" fill="#dc5f6a"/>
<rect x="108.35" y="594.32" width="6.8" height="2.89" fill="#676968"/>
<rect x="108.35" y="597.21" width="6.8" height="0.54" fill="#dc5f6a"/>
<rect x="118.74" y="553.41" width="6.8" height="26.16" fill="#676968"/>
<rect x="118.74" y="579.58" width="6.8" height="18.17" fill="#dc5f6a"/>
<rect x="129.13" y="594.61" width="6.8" height="2.60" fill="#676968"/>
<rect x="129.13" y="597.21" width="6.8" height="0.54" fill="#dc5f6a"/>
<rect x="139.52" y="582.18" width="6.8" height="11.85" fill="#676968"/>
<rect x="139.52" y="594.03" width="6.8" height="3.72" fill="#dc5f6a"/>
<rect x="149.91" y="576.97" width="6.8" height="14.89" fill="#676968"/>
<rect x="149.91" y="591.86" width="6.8" height="5.89" fill="#dc5f6a"/>
<rect x="160.30" y="574.37" width="6.8" height="10.70" fill="#676968"/>
<rect x="160.30" y="585.07" width="6.8" height="12.68" fill="#dc5f6a"/>
<rect x="170.69" y="557.31" width="6.8" height="20.82" fill="#676968"/>
<rect x="170.69" y="578.13" width="6.8" height="19.62" fill="#dc5f6a"/>
<rect x="181.08" y="569.02" width="6.8" height="19.08" fill="#676968"/>
<rect x="181.08" y="588.10" width="6.8" height="9.65" fill="#dc5f6a"/>
<rect x="191.47" y="591.14" width="6.8" height="5.93" fill="#676968"/>
<rect x="191.47" y="597.07" width="6.8" height="0.68" fill="#dc5f6a"/>
<rect x="201.86" y="595.33" width="6.8" height="2.02" fill="#676968"/>
<rect x="201.86" y="597.36" width="6.8" height="0.39" fill="#dc5f6a"/>
<rect x="212.25" y="589.98" width="6.8" height="7.08" fill="#676968"/>
<rect x="212.25" y="597.07" width="6.8" height="0.68" fill="#dc5f6a"/>
<rect x="222.64" y="591.43" width="6.8" height="5.64" fill="#676968"/>
<rect x="222.64" y="597.07" width="6.8" height="0.68" fill="#dc5f6a"/>
<rect x="233.03" y="590.56" width="6.8" height="6.36" fill="#676968"/>
<rect x="233.03" y="596.92" width="6.8" height="0.83" fill="#dc5f6a"/>
<rect x="243.42" y="594.61" width="6.8" height="2.60" fill="#676968"/>
<rect x="243.42" y="597.21" width="6.8" height="0.54" fill="#dc5f6a"/>
<rect x="253.81" y="591.43" width="6.8" height="5.78" fill="#676968"/>
<rect x="253.81" y="597.21" width="6.8" height="0.54" fill="#dc5f6a"/>
<rect x="264.20" y="586.51" width="6.8" height="9.40" fill="#676968"/>
<rect x="264.20" y="595.91" width="6.8" height="1.84" fill="#dc5f6a"/>
<rect x="274.59" y="583.77" width="6.8" height="10.84" fill="#676968"/>
<rect x="274.59" y="594.61" width="6.8" height="3.14" fill="#dc5f6a"/>
<rect x="284.98" y="590.42" width="6.8" height="5.64" fill="#676968"/>
<rect x="284.98" y="596.05" width="6.8" height="1.70" fill="#dc5f6a"/>
<rect x="295.37" y="592.01" width="6.8" height="5.06" fill="#676968"/>
<rect x="295.37" y="597.07" width="6.8" height="0.68" fill="#dc5f6a"/>
<rect x="305.76" y="574.23" width="6.8" height="15.61" fill="#676968"/>
<rect x="305.76" y="589.84" width="6.8" height="7.91" fill="#dc5f6a"/>
<rect x="316.15" y="593.31" width="6.8" height="3.61" fill="#676968"/>
<rect x="316.15" y="596.92" width="6.8" height="0.83" fill="#dc5f6a"/>
<line x1="21.55" y1="467.10" x2="21.55" y2="597.80" stroke="#5e5e5e" stroke-width="0.7"/>
<line x1="19.75" y1="597.50" x2="22.95" y2="597.50" stroke="#5e5e5e" stroke-width="0.55"/>
<text transform="translate(16.80,599.55) rotate(0.05)" text-anchor="end">0.00</text>
<line x1="19.75" y1="590.27" x2="22.95" y2="590.27" stroke="#5e5e5e" stroke-width="0.55"/>
<text transform="translate(16.80,592.32) rotate(0.05)" text-anchor="end">0.50</text>
<line x1="19.75" y1="583.04" x2="22.95" y2="583.04" stroke="#5e5e5e" stroke-width="0.55"/>
<text transform="translate(16.80,585.09) rotate(0.05)" text-anchor="end">1.00</text>
<line x1="19.75" y1="575.82" x2="22.95" y2="575.82" stroke="#5e5e5e" stroke-width="0.55"/>
<text transform="translate(16.80,577.87) rotate(0.05)" text-anchor="end">1.50</text>
<line x1="19.75" y1="568.59" x2="22.95" y2="568.59" stroke="#5e5e5e" stroke-width="0.55"/>
<text transform="translate(16.80,570.64) rotate(0.05)" text-anchor="end">2.00</text>
<line x1="19.75" y1="561.36" x2="22.95" y2="561.36" stroke="#5e5e5e" stroke-width="0.55"/>
<text transform="translate(16.80,563.41) rotate(0.05)" text-anchor="end">2.50</text>
<line x1="19.75" y1="554.13" x2="22.95" y2="554.13" stroke="#5e5e5e" stroke-width="0.55"/>
<text transform="translate(16.80,556.18) rotate(0.05)" text-anchor="end">3.00</text>
<line x1="19.75" y1="546.91" x2="22.95" y2="546.91" stroke="#5e5e5e" stroke-width="0.55"/>
<text transform="translate(16.80,548.96) rotate(0.05)" text-anchor="end">3.50</text>
<line x1="19.75" y1="539.68" x2="22.95" y2="539.68" stroke="#5e5e5e" stroke-width="0.55"/>
<text transform="translate(16.80,541.73) rotate(0.05)" text-anchor="end">4.00</text>
<line x1="19.75" y1="532.45" x2="22.95" y2="532.45" stroke="#5e5e5e" stroke-width="0.55"/>
<text transform="translate(16.80,534.50) rotate(0.05)" text-anchor="end">4.50</text>
<line x1="19.75" y1="525.22" x2="22.95" y2="525.22" stroke="#5e5e5e" stroke-width="0.55"/>
<text transform="translate(16.80,527.27) rotate(0.05)" text-anchor="end">5.00</text>
<line x1="19.75" y1="517.99" x2="22.95" y2="517.99" stroke="#5e5e5e" stroke-width="0.55"/>
<text transform="translate(16.80,520.04) rotate(0.05)" text-anchor="end">5.50</text>
<line x1="19.75" y1="510.77" x2="22.95" y2="510.77" stroke="#5e5e5e" stroke-width="0.55"/>
<text transform="translate(16.80,512.82) rotate(0.05)" text-anchor="end">6.00</text>
<line x1="19.75" y1="503.54" x2="22.95" y2="503.54" stroke="#5e5e5e" stroke-width="0.55"/>
<text transform="translate(16.80,505.59) rotate(0.05)" text-anchor="end">6.50</text>
<line x1="19.75" y1="496.31" x2="22.95" y2="496.31" stroke="#5e5e5e" stroke-width="0.55"/>
<text transform="translate(16.80,498.36) rotate(0.05)" text-anchor="end">7.00</text>
<line x1="19.75" y1="489.08" x2="22.95" y2="489.08" stroke="#5e5e5e" stroke-width="0.55"/>
<text transform="translate(16.80,491.13) rotate(0.05)" text-anchor="end">7.50</text>
<line x1="19.75" y1="481.86" x2="22.95" y2="481.86" stroke="#5e5e5e" stroke-width="0.55"/>
<text transform="translate(16.80,483.91) rotate(0.05)" text-anchor="end">8.00</text>
<line x1="19.75" y1="474.63" x2="22.95" y2="474.63" stroke="#5e5e5e" stroke-width="0.55"/>
<text transform="translate(16.80,476.68) rotate(0.05)" text-anchor="end">8.50</text>
<line x1="19.75" y1="467.40" x2="22.95" y2="467.40" stroke="#5e5e5e" stroke-width="0.55"/>
<text transform="translate(16.80,469.45) rotate(0.05)" text-anchor="end">9.00</text>
<text class="xl" transform="translate(32.53,604.10) rotate(-43.5)" text-anchor="end">A-point</text>
<text class="xl" transform="translate(42.92,604.10) rotate(-43.5)" text-anchor="end">Anterior Nasal Spine</text>
<text class="xl" transform="translate(53.31,604.10) rotate(-43.5)" text-anchor="end">B-point</text>
<text class="xl" transform="translate(63.70,604.10) rotate(-43.5)" text-anchor="end">Menton</text>
<text class="xl" transform="translate(74.09,604.10) rotate(-43.5)" text-anchor="end">Nasion</text>
<text class="xl" transform="translate(84.48,604.10) rotate(-43.5)" text-anchor="end">Orbitale</text>
<text class="xl" transform="translate(94.87,604.10) rotate(-43.5)" text-anchor="end">Pogonion</text>
<text class="xl" transform="translate(105.26,604.10) rotate(-43.5)" text-anchor="end">Posterior Nasal Spine</text>
<text class="xl" transform="translate(115.65,604.10) rotate(-43.5)" text-anchor="end">Pronasale</text>
<text class="xl" transform="translate(126.04,604.10) rotate(-43.5)" text-anchor="end">Ramus</text>
<text class="xl" transform="translate(136.43,604.10) rotate(-43.5)" text-anchor="end">Sella</text>
<text class="xl" transform="translate(146.82,604.10) rotate(-43.5)" text-anchor="end">Articulare</text>
<text class="xl" transform="translate(157.21,604.10) rotate(-43.5)" text-anchor="end">Condylion</text>
<text class="xl" transform="translate(167.60,604.10) rotate(-43.5)" text-anchor="end">Gnathion</text>
<text class="xl" transform="translate(177.99,604.10) rotate(-43.5)" text-anchor="end">Gonion</text>
<text class="xl" transform="translate(188.38,604.10) rotate(-43.5)" text-anchor="end">Porion</text>
<text class="xl" transform="translate(198.77,604.10) rotate(-43.5)" text-anchor="end">Lower 2nd PM Cusp</text>
<text class="xl" transform="translate(209.16,604.10) rotate(-43.5)" text-anchor="end">Lower Incisor Tip</text>
<text class="xl" transform="translate(219.55,604.10) rotate(-43.5)" text-anchor="end">Lower Molar Cusp Tip</text>
<text class="xl" transform="translate(229.94,604.10) rotate(-43.5)" text-anchor="end">Upper 2nd PM Cusp</text>
<text class="xl" transform="translate(240.33,604.10) rotate(-43.5)" text-anchor="end">Upper Incisor Apex</text>
<text class="xl" transform="translate(250.72,604.10) rotate(-43.5)" text-anchor="end">Upper Incisor Tip</text>
<text class="xl" transform="translate(261.11,604.10) rotate(-43.5)" text-anchor="end">Upper Molar Cusp Tip</text>
<text class="xl" transform="translate(271.50,604.10) rotate(-43.5)" text-anchor="end">Lower Incisor Apex</text>
<text class="xl" transform="translate(281.89,604.10) rotate(-43.5)" text-anchor="end">Labrale inferius</text>
<text class="xl" transform="translate(292.28,604.10) rotate(-43.5)" text-anchor="end">Labrale superius</text>
<text class="xl" transform="translate(302.67,604.10) rotate(-43.5)" text-anchor="end">Soft Tissue Nasion</text>
<text class="xl" transform="translate(313.06,604.10) rotate(-43.5)" text-anchor="end">Soft Tissue Pogonion</text>
<text class="xl" transform="translate(323.45,604.10) rotate(-43.5)" text-anchor="end">Subnasale</text>
<rect x="91.30" y="452.30" width="3.5" height="3.4" fill="#676968"/>
<text transform="translate(96.85,455.70) rotate(0.05)">Standard Deviation (mm)</text>
<rect x="170.55" y="452.30" width="3.5" height="3.4" fill="#dc5f6a"/>
<text transform="translate(175.85,455.70) rotate(0.05)">Mean Radial Error (mm)</text>
</g>
<g>
<line x1="379.55" y1="597.50" x2="684.85" y2="597.50" stroke="#e8e8e8" stroke-width="0.7"/>
<line x1="379.55" y1="590.27" x2="684.85" y2="590.27" stroke="#e8e8e8" stroke-width="0.7"/>
<line x1="379.55" y1="583.04" x2="684.85" y2="583.04" stroke="#e8e8e8" stroke-width="0.7"/>
<line x1="379.55" y1="575.82" x2="684.85" y2="575.82" stroke="#e8e8e8" stroke-width="0.7"/>
<line x1="379.55" y1="568.59" x2="684.85" y2="568.59" stroke="#e8e8e8" stroke-width="0.7"/>
<line x1="379.55" y1="561.36" x2="684.85" y2="561.36" stroke="#e8e8e8" stroke-width="0.7"/>
<line x1="379.55" y1="554.13" x2="684.85" y2="554.13" stroke="#e8e8e8" stroke-width="0.7"/>
<line x1="379.55" y1="546.91" x2="684.85" y2="546.91" stroke="#e8e8e8" stroke-width="0.7"/>
<line x1="379.55" y1="539.68" x2="684.85" y2="539.68" stroke="#e8e8e8" stroke-width="0.7"/>
<line x1="379.55" y1="532.45" x2="684.85" y2="532.45" stroke="#e8e8e8" stroke-width="0.7"/>
<line x1="379.55" y1="525.22" x2="684.85" y2="525.22" stroke="#e8e8e8" stroke-width="0.7"/>
<line x1="379.55" y1="517.99" x2="684.85" y2="517.99" stroke="#e8e8e8" stroke-width="0.7"/>
<line x1="379.55" y1="510.77" x2="684.85" y2="510.77" stroke="#e8e8e8" stroke-width="0.7"/>
<line x1="379.55" y1="503.54" x2="684.85" y2="503.54" stroke="#e8e8e8" stroke-width="0.7"/>
<line x1="379.55" y1="496.31" x2="684.85" y2="496.31" stroke="#e8e8e8" stroke-width="0.7"/>
<line x1="379.55" y1="489.08" x2="684.85" y2="489.08" stroke="#e8e8e8" stroke-width="0.7"/>
<line x1="379.55" y1="481.86" x2="684.85" y2="481.86" stroke="#e8e8e8" stroke-width="0.7"/>
<line x1="379.55" y1="474.63" x2="684.85" y2="474.63" stroke="#e8e8e8" stroke-width="0.7"/>
<line x1="379.55" y1="467.40" x2="684.85" y2="467.40" stroke="#e8e8e8" stroke-width="0.7"/>
<line x1="379.55" y1="597.50" x2="684.85" y2="597.50" stroke="#cfcfcf" stroke-width="0.75"/>
<rect x="383.05" y="594.32" width="6.8" height="2.75" fill="#676968"/>
<rect x="383.05" y="597.07" width="6.8" height="0.68" fill="#dc5f6a"/>
<rect x="393.45" y="592.15" width="6.8" height="4.77" fill="#676968"/>
<rect x="393.45" y="596.92" width="6.8" height="0.83" fill="#dc5f6a"/>
<rect x="403.85" y="575.09" width="6.8" height="15.03" fill="#676968"/>
<rect x="403.85" y="590.13" width="6.8" height="7.62" fill="#dc5f6a"/>
<rect x="414.25" y="571.77" width="6.8" height="12.72" fill="#676968"/>
<rect x="414.25" y="584.49" width="6.8" height="13.26" fill="#dc5f6a"/>
<rect x="424.65" y="584.92" width="6.8" height="10.12" fill="#676968"/>
<rect x="424.65" y="595.04" width="6.8" height="2.71" fill="#dc5f6a"/>
<rect x="435.05" y="578.13" width="6.8" height="14.74" fill="#676968"/>
<rect x="435.05" y="592.87" width="6.8" height="4.88" fill="#dc5f6a"/>
<rect x="445.45" y="565.70" width="6.8" height="16.19" fill="#676968"/>
<rect x="445.45" y="581.89" width="6.8" height="15.86" fill="#dc5f6a"/>
<rect x="455.85" y="590.13" width="6.8" height="6.79" fill="#676968"/>
<rect x="455.85" y="596.92" width="6.8" height="0.83" fill="#dc5f6a"/>
<rect x="466.25" y="594.32" width="6.8" height="2.89" fill="#676968"/>
<rect x="466.25" y="597.21" width="6.8" height="0.54" fill="#dc5f6a"/>
<rect x="476.65" y="553.41" width="6.8" height="26.16" fill="#676968"/>
<rect x="476.65" y="579.58" width="6.8" height="18.17" fill="#dc5f6a"/>
<rect x="487.05" y="594.61" width="6.8" height="2.60" fill="#676968"/>
<rect x="487.05" y="597.21" width="6.8" height="0.54" fill="#dc5f6a"/>
<rect x="497.45" y="582.18" width="6.8" height="11.85" fill="#676968"/>
<rect x="497.45" y="594.03" width="6.8" height="3.72" fill="#dc5f6a"/>
<rect x="507.85" y="576.97" width="6.8" height="14.89" fill="#676968"/>
<rect x="507.85" y="591.86" width="6.8" height="5.89" fill="#dc5f6a"/>
<rect x="518.25" y="574.37" width="6.8" height="10.70" fill="#676968"/>
<rect x="518.25" y="585.07" width="6.8" height="12.68" fill="#dc5f6a"/>
<rect x="528.65" y="557.31" width="6.8" height="20.82" fill="#676968"/>
<rect x="528.65" y="578.13" width="6.8" height="19.62" fill="#dc5f6a"/>
<rect x="539.05" y="569.02" width="6.8" height="19.08" fill="#676968"/>
<rect x="539.05" y="588.10" width="6.8" height="9.65" fill="#dc5f6a"/>
<rect x="549.45" y="591.14" width="6.8" height="5.93" fill="#676968"/>
<rect x="549.45" y="597.07" width="6.8" height="0.68" fill="#dc5f6a"/>
<rect x="559.85" y="595.33" width="6.8" height="2.02" fill="#676968"/>
<rect x="559.85" y="597.36" width="6.8" height="0.39" fill="#dc5f6a"/>
<rect x="570.25" y="589.98" width="6.8" height="7.08" fill="#676968"/>
<rect x="570.25" y="597.07" width="6.8" height="0.68" fill="#dc5f6a"/>
<rect x="580.65" y="591.43" width="6.8" height="5.64" fill="#676968"/>
<rect x="580.65" y="597.07" width="6.8" height="0.68" fill="#dc5f6a"/>
<rect x="591.05" y="590.56" width="6.8" height="6.36" fill="#676968"/>
<rect x="591.05" y="596.92" width="6.8" height="0.83" fill="#dc5f6a"/>
<rect x="601.45" y="594.61" width="6.8" height="2.60" fill="#676968"/>
<rect x="601.45" y="597.21" width="6.8" height="0.54" fill="#dc5f6a"/>
<rect x="611.85" y="591.43" width="6.8" height="5.78" fill="#676968"/>
<rect x="611.85" y="597.21" width="6.8" height="0.54" fill="#dc5f6a"/>
<rect x="622.25" y="586.51" width="6.8" height="9.40" fill="#676968"/>
<rect x="622.25" y="595.91" width="6.8" height="1.84" fill="#dc5f6a"/>
<rect x="632.65" y="583.77" width="6.8" height="10.84" fill="#676968"/>
<rect x="632.65" y="594.61" width="6.8" height="3.14" fill="#dc5f6a"/>
<rect x="643.05" y="590.42" width="6.8" height="5.64" fill="#676968"/>
<rect x="643.05" y="596.05" width="6.8" height="1.70" fill="#dc5f6a"/>
<rect x="653.45" y="592.01" width="6.8" height="5.06" fill="#676968"/>
<rect x="653.45" y="597.07" width="6.8" height="0.68" fill="#dc5f6a"/>
<rect x="663.85" y="574.23" width="6.8" height="15.61" fill="#676968"/>
<rect x="663.85" y="589.84" width="6.8" height="7.91" fill="#dc5f6a"/>
<rect x="674.25" y="593.31" width="6.8" height="3.61" fill="#676968"/>
<rect x="674.25" y="596.92" width="6.8" height="0.83" fill="#dc5f6a"/>
<line x1="379.55" y1="467.10" x2="379.55" y2="597.80" stroke="#5e5e5e" stroke-width="0.7"/>
<line x1="377.75" y1="597.50" x2="380.95" y2="597.50" stroke="#5e5e5e" stroke-width="0.55"/>
<text transform="translate(374.80,599.55) rotate(0.05)" text-anchor="end">0.00</text>
<line x1="377.75" y1="590.27" x2="380.95" y2="590.27" stroke="#5e5e5e" stroke-width="0.55"/>
<text transform="translate(374.80,592.32) rotate(0.05)" text-anchor="end">0.50</text>
<line x1="377.75" y1="583.04" x2="380.95" y2="583.04" stroke="#5e5e5e" stroke-width="0.55"/>
<text transform="translate(374.80,585.09) rotate(0.05)" text-anchor="end">1.00</text>
<line x1="377.75" y1="575.82" x2="380.95" y2="575.82" stroke="#5e5e5e" stroke-width="0.55"/>
<text transform="translate(374.80,577.87) rotate(0.05)" text-anchor="end">1.50</text>
<line x1="377.75" y1="568.59" x2="380.95" y2="568.59" stroke="#5e5e5e" stroke-width="0.55"/>
<text transform="translate(374.80,570.64) rotate(0.05)" text-anchor="end">2.00</text>
<line x1="377.75" y1="561.36" x2="380.95" y2="561.36" stroke="#5e5e5e" stroke-width="0.55"/>
<text transform="translate(374.80,563.41) rotate(0.05)" text-anchor="end">2.50</text>
<line x1="377.75" y1="554.13" x2="380.95" y2="554.13" stroke="#5e5e5e" stroke-width="0.55"/>
<text transform="translate(374.80,556.18) rotate(0.05)" text-anchor="end">3.00</text>
<line x1="377.75" y1="546.91" x2="380.95" y2="546.91" stroke="#5e5e5e" stroke-width="0.55"/>
<text transform="translate(374.80,548.96) rotate(0.05)" text-anchor="end">3.50</text>
<line x1="377.75" y1="539.68" x2="380.95" y2="539.68" stroke="#5e5e5e" stroke-width="0.55"/>
<text transform="translate(374.80,541.73) rotate(0.05)" text-anchor="end">4.00</text>
<line x1="377.75" y1="532.45" x2="380.95" y2="532.45" stroke="#5e5e5e" stroke-width="0.55"/>
<text transform="translate(374.80,534.50) rotate(0.05)" text-anchor="end">4.50</text>
<line x1="377.75" y1="525.22" x2="380.95" y2="525.22" stroke="#5e5e5e" stroke-width="0.55"/>
<text transform="translate(374.80,527.27) rotate(0.05)" text-anchor="end">5.00</text>
<line x1="377.75" y1="517.99" x2="380.95" y2="517.99" stroke="#5e5e5e" stroke-width="0.55"/>
<text transform="translate(374.80,520.04) rotate(0.05)" text-anchor="end">5.50</text>
<line x1="377.75" y1="510.77" x2="380.95" y2="510.77" stroke="#5e5e5e" stroke-width="0.55"/>
<text transform="translate(374.80,512.82) rotate(0.05)" text-anchor="end">6.00</text>
<line x1="377.75" y1="503.54" x2="380.95" y2="503.54" stroke="#5e5e5e" stroke-width="0.55"/>
<text transform="translate(374.80,505.59) rotate(0.05)" text-anchor="end">6.50</text>
<line x1="377.75" y1="496.31" x2="380.95" y2="496.31" stroke="#5e5e5e" stroke-width="0.55"/>
<text transform="translate(374.80,498.36) rotate(0.05)" text-anchor="end">7.00</text>
<line x1="377.75" y1="489.08" x2="380.95" y2="489.08" stroke="#5e5e5e" stroke-width="0.55"/>
<text transform="translate(374.80,491.13) rotate(0.05)" text-anchor="end">7.50</text>
<line x1="377.75" y1="481.86" x2="380.95" y2="481.86" stroke="#5e5e5e" stroke-width="0.55"/>
<text transform="translate(374.80,483.91) rotate(0.05)" text-anchor="end">8.00</text>
<line x1="377.75" y1="474.63" x2="380.95" y2="474.63" stroke="#5e5e5e" stroke-width="0.55"/>
<text transform="translate(374.80,476.68) rotate(0.05)" text-anchor="end">8.50</text>
<line x1="377.75" y1="467.40" x2="380.95" y2="467.40" stroke="#5e5e5e" stroke-width="0.55"/>
<text transform="translate(374.80,469.45) rotate(0.05)" text-anchor="end">9.00</text>
<text class="xl" transform="translate(390.35,604.10) rotate(-43.5)" text-anchor="end">A-point</text>
<text class="xl" transform="translate(400.75,604.10) rotate(-43.5)" text-anchor="end">Anterior Nasal Spine</text>
<text class="xl" transform="translate(411.15,604.10) rotate(-43.5)" text-anchor="end">B-point</text>
<text class="xl" transform="translate(421.55,604.10) rotate(-43.5)" text-anchor="end">Menton</text>
<text class="xl" transform="translate(431.95,604.10) rotate(-43.5)" text-anchor="end">Nasion</text>
<text class="xl" transform="translate(442.35,604.10) rotate(-43.5)" text-anchor="end">Orbitale</text>
<text class="xl" transform="translate(452.75,604.10) rotate(-43.5)" text-anchor="end">Pogonion</text>
<text class="xl" transform="translate(463.15,604.10) rotate(-43.5)" text-anchor="end">Posterior Nasal Spine</text>
<text class="xl" transform="translate(473.55,604.10) rotate(-43.5)" text-anchor="end">Pronasale</text>
<text class="xl" transform="translate(483.95,604.10) rotate(-43.5)" text-anchor="end">Ramus</text>
<text class="xl" transform="translate(494.35,604.10) rotate(-43.5)" text-anchor="end">Sella</text>
<text class="xl" transform="translate(504.75,604.10) rotate(-43.5)" text-anchor="end">Articulare</text>
<text class="xl" transform="translate(515.15,604.10) rotate(-43.5)" text-anchor="end">Condylion</text>
<text class="xl" transform="translate(525.55,604.10) rotate(-43.5)" text-anchor="end">Gnathion</text>
<text class="xl" transform="translate(535.95,604.10) rotate(-43.5)" text-anchor="end">Gonion</text>
<text class="xl" transform="translate(546.35,604.10) rotate(-43.5)" text-anchor="end">Porion</text>
<text class="xl" transform="translate(556.75,604.10) rotate(-43.5)" text-anchor="end">Lower 2nd PM Cusp</text>
<text class="xl" transform="translate(567.15,604.10) rotate(-43.5)" text-anchor="end">Lower Incisor Tip</text>
<text class="xl" transform="translate(577.55,604.10) rotate(-43.5)" text-anchor="end">Lower Molar Cusp Tip</text>
<text class="xl" transform="translate(587.95,604.10) rotate(-43.5)" text-anchor="end">Upper 2nd PM Cusp</text>
<text class="xl" transform="translate(598.35,604.10) rotate(-43.5)" text-anchor="end">Upper Incisor Apex</text>
<text class="xl" transform="translate(608.75,604.10) rotate(-43.5)" text-anchor="end">Upper Incisor Tip</text>
<text class="xl" transform="translate(619.15,604.10) rotate(-43.5)" text-anchor="end">Upper Molar Cusp Tip</text>
<text class="xl" transform="translate(629.55,604.10) rotate(-43.5)" text-anchor="end">Lower Incisor Apex</text>
<text class="xl" transform="translate(639.95,604.10) rotate(-43.5)" text-anchor="end">Labrale inferius</text>
<text class="xl" transform="translate(650.35,604.10) rotate(-43.5)" text-anchor="end">Labrale superius</text>
<text class="xl" transform="translate(660.75,604.10) rotate(-43.5)" text-anchor="end">Soft Tissue Nasion</text>
<text class="xl" transform="translate(671.15,604.10) rotate(-43.5)" text-anchor="end">Soft Tissue Pogonion</text>
<text class="xl" transform="translate(681.55,604.10) rotate(-43.5)" text-anchor="end">Subnasale</text>
<rect x="449.30" y="452.30" width="3.5" height="3.4" fill="#676968"/>
<text transform="translate(454.85,455.70) rotate(0.05)">Standard Deviation (mm)</text>
<rect x="528.55" y="452.30" width="3.5" height="3.4" fill="#dc5f6a"/>
<text transform="translate(533.85,455.70) rotate(0.05)">Mean Radial Error (mm)</text>
</g>
<text class="cap" transform="translate(158.2,678.7) rotate(0.05)">(a)</text>
<text class="cap" transform="translate(515.7,678.8) rotate(0.05)">(b)</text>
</svg>
</body></html>
